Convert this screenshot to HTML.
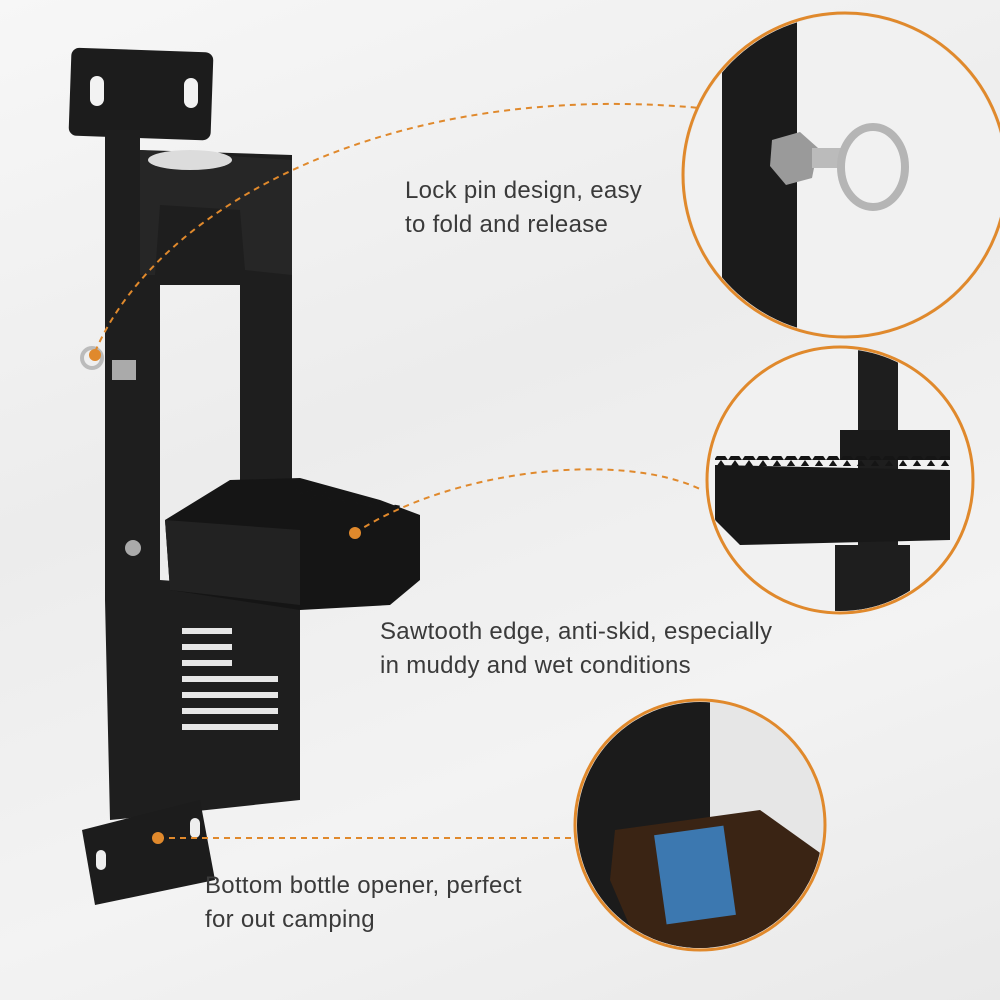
<!DOCTYPE html>
<html><head><meta charset="utf-8"><style>
html,body{margin:0;padding:0}
body{width:1000px;height:1000px;overflow:hidden;background:linear-gradient(160deg,#f7f7f7 0%,#ececec 40%,#f3f3f3 70%,#e9e9e9 100%);position:relative;font-family:"Liberation Sans",sans-serif}
.t{position:absolute;color:#3a3a3a;font-size:24px;line-height:34px;letter-spacing:0.3px}
</style></head><body>
<svg width="1000" height="1000" style="position:absolute;left:0;top:0">
<defs>
<clipPath id="c1"><circle cx="845" cy="175" r="160"/></clipPath>
<clipPath id="c2"><circle cx="840" cy="480" r="131"/></clipPath>
<clipPath id="c3"><circle cx="700" cy="825" r="123"/></clipPath>
<pattern id="teeth" x="0" y="0" width="14" height="10" patternUnits="userSpaceOnUse"><polygon points="0,10 7,0 14,10" fill="#151515"/></pattern>
</defs>
<rect x="70" y="50" width="142" height="88" rx="8" fill="#1c1c1c" transform="rotate(2 140 94)"/>
<rect x="90" y="76" width="14" height="30" rx="7" fill="#f2f2f2"/>
<rect x="184" y="78" width="14" height="30" rx="7" fill="#f2f2f2"/>
<polygon points="105,130 140,130 140,150 292,155 292,490 240,490 240,285 160,285 160,580 300,590 300,800 160,815 110,820 105,600" fill="#1e1e1e"/>
<polygon points="140,150 292,160 292,275 245,270 240,210 160,205 155,275 140,275" fill="#262626"/>
<ellipse cx="190" cy="160" rx="42" ry="10" fill="#dcdcdc"/>
<g fill="#e6e6e6">
<rect x="182" y="628" width="50" height="6"/><rect x="182" y="644" width="50" height="6"/><rect x="182" y="660" width="50" height="6"/>
<rect x="182" y="676" width="96" height="6"/><rect x="182" y="692" width="96" height="6"/><rect x="182" y="708" width="96" height="6"/><rect x="182" y="724" width="96" height="6"/>
</g>
<polygon points="165,520 230,480 300,478 380,500 420,515 420,580 390,605 300,610 170,590" fill="#151515"/>
<rect x="290" y="496" width="110" height="10" fill="url(#teeth)" transform="rotate(10 345 500)"/>
<polygon points="165,520 300,530 300,605 170,590" fill="#222"/>
<circle cx="133" cy="548" r="8" fill="#aaa"/>
<polygon points="82,830 200,800 215,880 95,905" fill="#1c1c1c"/>
<rect x="96" y="850" width="10" height="20" rx="5" fill="#eee"/>
<rect x="190" y="818" width="10" height="20" rx="5" fill="#eee"/>
<circle cx="92" cy="358" r="10" fill="none" stroke="#bbb" stroke-width="4"/>
<rect x="112" y="360" width="24" height="20" fill="#aaa"/>
<circle cx="845" cy="175" r="162" fill="#e8e8e8"/>
<g clip-path="url(#c1)">
<rect x="680" y="0" width="340" height="360" fill="#f1f1f1"/>
<rect x="722" y="0" width="75" height="360" fill="#1b1b1b"/>
<polygon points="772,140 800,132 818,148 812,178 786,185 770,166" fill="#9a9a9a"/>
<rect x="812" y="148" width="30" height="20" fill="#bbb"/>
<ellipse cx="873" cy="167" rx="32" ry="40" fill="none" stroke="#b5b5b5" stroke-width="8"/>
</g>
<circle cx="845" cy="175" r="162" fill="none" stroke="#e0892c" stroke-width="3"/>
<circle cx="840" cy="480" r="133" fill="#f1f1f1"/>
<g clip-path="url(#c2)">
<rect x="858" y="340" width="40" height="300" fill="#1e1e1e"/>
<rect x="840" y="430" width="110" height="30" fill="#1a1a1a"/>
<rect x="715" y="456" width="235" height="10" fill="url(#teeth)"/>
<polygon points="715,465 950,470 950,540 740,545 715,520" fill="#181818"/>
<rect x="835" y="545" width="75" height="80" fill="#1e1e1e"/>
</g>
<circle cx="840" cy="480" r="133" fill="none" stroke="#e0892c" stroke-width="3"/>
<circle cx="700" cy="825" r="125" fill="#e6e6e6"/>
<g clip-path="url(#c3)">
<rect x="570" y="700" width="140" height="260" fill="#1b1b1b"/>
<polygon points="615,830 760,810 830,860 830,950 640,950 610,880" fill="#3a2414"/>
<rect x="660" y="830" width="70" height="90" fill="#3c78b0" transform="rotate(-8 695 875)"/>
</g>
<circle cx="700" cy="825" r="125" fill="none" stroke="#e0892c" stroke-width="3"/>
<g fill="none" stroke="#e0892c" stroke-width="2" stroke-dasharray="6,5">
<path d="M95,352 C160,200 400,80 700,108"/>
<path d="M355,533 C450,470 620,450 702,490"/>
<path d="M158,838 L577,838"/>
</g>
<g fill="#e0892c"><circle cx="95" cy="355" r="6"/><circle cx="355" cy="533" r="6"/><circle cx="158" cy="838" r="6"/></g>
</svg>
<div class="t" style="left:405px;top:174px">Lock pin design, easy<br>to fold and release</div>
<div class="t" style="left:380px;top:615px">Sawtooth edge, anti-skid, especially<br>in muddy and wet conditions</div>
<div class="t" style="left:205px;top:869px">Bottom bottle opener, perfect<br>for out camping</div>
</body></html>
